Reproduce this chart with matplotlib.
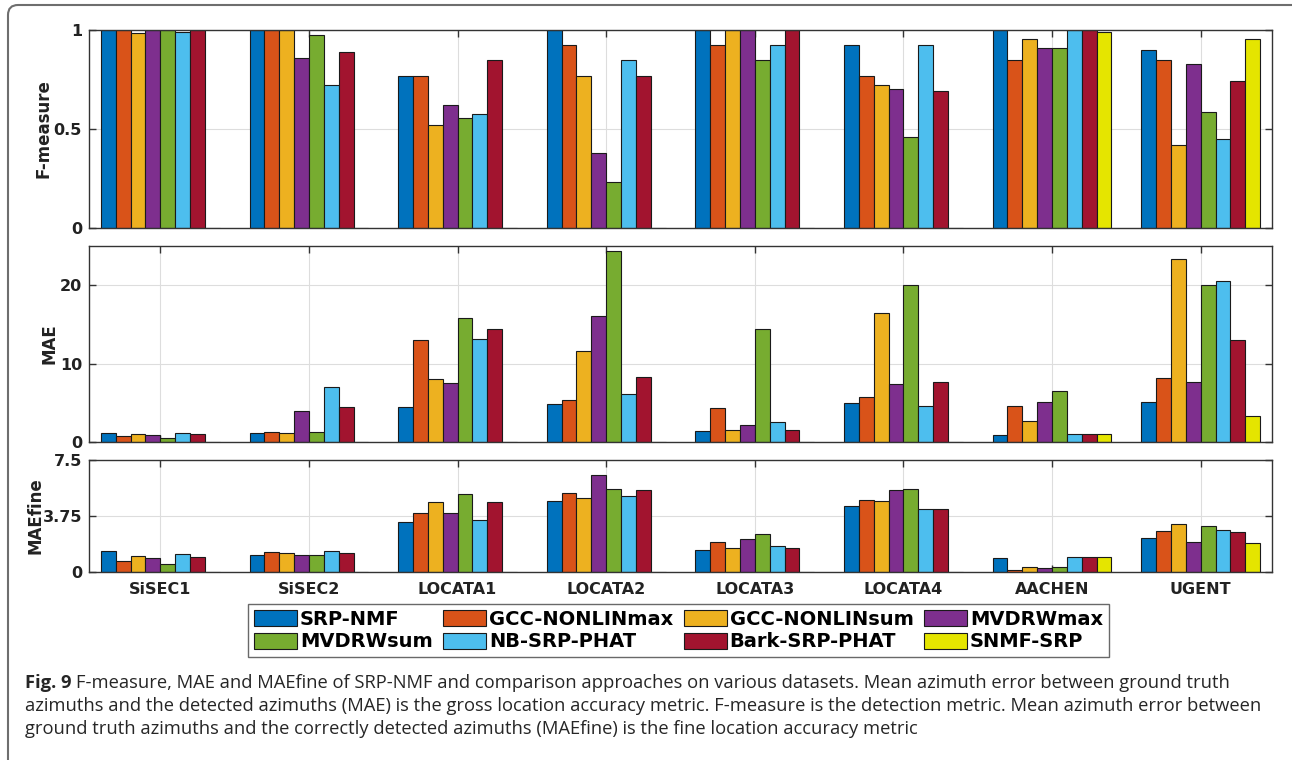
import matplotlib
matplotlib.use("Agg")
import matplotlib.pyplot as plt
import numpy as np
from matplotlib.patches import FancyBboxPatch, Patch
from matplotlib.transforms import IdentityTransform

# ---------------- data ----------------
datasets = ["SiSEC1", "SiSEC2", "LOCATA1", "LOCATA2", "LOCATA3", "LOCATA4", "AACHEN", "UGENT"]
methods = ["SRP-NMF", "GCC-NONLINmax", "GCC-NONLINsum", "MVDRWmax",
           "MVDRWsum", "NB-SRP-PHAT", "Bark-SRP-PHAT", "SNMF-SRP"]
colors = ["#0072BD", "#D95319", "#EDB120", "#7E2F8E",
          "#77AC30", "#4DBEEE", "#A2142F", "#E5E500"]

# F-measure per method (order of datasets)
f_srp_nmf   = [1.00, 1.00, 0.767, 1.00, 1.00, 0.922, 1.00, 0.90]
f_gcc_max   = [1.00, 1.00, 0.767, 0.922, 0.922, 0.767, 0.85, 0.85]
f_gcc_sum   = [0.983, 1.00, 0.518, 0.767, 1.00, 0.722, 0.953, 0.418]
f_mvdr_max  = [1.00, 0.86, 0.619, 0.379, 1.00, 0.70, 0.91, 0.83]
f_mvdr_sum  = [1.00, 0.973, 0.558, 0.231, 0.85, 0.46, 0.91, 0.587]
f_nb_srp    = [0.99, 0.722, 0.578, 0.85, 0.922, 0.922, 1.00, 0.45]
f_bark_srp  = [1.00, 0.89, 0.85, 0.767, 1.00, 0.69, 1.00, 0.744]
f_snmf_srp  = [0, 0, 0, 0, 0, 0, 0.99, 0.953]

# MAE per method
mae_srp_nmf  = [1.19, 1.19, 4.51, 4.81, 1.45, 4.94, 0.94, 5.06]
mae_gcc_max  = [0.72, 1.28, 13.06, 5.40, 4.38, 5.70, 4.55, 8.17]
mae_gcc_sum  = [1.02, 1.19, 8.04, 11.60, 1.53, 16.43, 2.72, 23.40]
mae_mvdr_max = [0.89, 4.00, 7.49, 16.13, 2.21, 7.40, 5.06, 7.62]
mae_mvdr_sum = [0.51, 1.28, 15.79, 24.40, 14.38, 20.04, 6.47, 20.04]
mae_nb_srp   = [1.19, 7.02, 13.19, 6.09, 2.60, 4.55, 1.06, 20.55]
mae_bark_srp = [1.02, 4.51, 14.38, 8.30, 1.57, 7.62, 1.06, 13.06]
mae_snmf_srp = [0, 0, 0, 0, 0, 0, 1.06, 3.36]

# MAEfine per method
fine_srp_nmf  = [1.39, 1.16, 3.36, 4.77, 1.45, 4.43, 0.96, 2.26]
fine_gcc_max  = [0.74, 1.32, 3.96, 5.32, 1.99, 4.83, 0.16, 2.75]
fine_gcc_sum  = [1.10, 1.25, 4.70, 4.97, 1.63, 4.77, 0.34, 3.20]
fine_mvdr_max = [0.96, 1.16, 3.96, 6.47, 2.19, 5.46, 0.25, 2.04]
fine_mvdr_sum = [0.56, 1.16, 5.19, 5.57, 2.53, 5.53, 0.34, 3.06]
fine_nb_srp   = [1.23, 1.41, 3.49, 5.10, 1.72, 4.21, 1.03, 2.80]
fine_bark_srp = [1.03, 1.30, 4.70, 5.46, 1.63, 4.23, 1.03, 2.66]
fine_snmf_srp = [0, 0, 0, 0, 0, 0, 1.03, 1.97]

fmeasure = [f_srp_nmf, f_gcc_max, f_gcc_sum, f_mvdr_max, f_mvdr_sum, f_nb_srp, f_bark_srp, f_snmf_srp]
mae = [mae_srp_nmf, mae_gcc_max, mae_gcc_sum, mae_mvdr_max, mae_mvdr_sum, mae_nb_srp, mae_bark_srp, mae_snmf_srp]
maefine = [fine_srp_nmf, fine_gcc_max, fine_gcc_sum, fine_mvdr_max, fine_mvdr_sum, fine_nb_srp, fine_bark_srp, fine_snmf_srp]

panels = [
    ("F-measure", fmeasure, (0, 1), [0, 0.5, 1], ["0", "0.5", "1"]),
    ("MAE", mae, (0, 25), [0, 10, 20], ["0", "10", "20"]),
    ("MAEfine", maefine, (0, 7.5), [0, 3.75, 7.5], ["0", "3.75", "7.5"]),
]

# ---------------- layout ----------------
W, H = 1292, 760
fig = plt.figure(figsize=(W / 100, H / 100), dpi=100)
fig.patch.set_facecolor("white")

def px_axes(l, t, r, b):
    return [l / W, 1 - b / H, (r - l) / W, (b - t) / H]

boxes = [(89, 30, 1272, 228), (89, 246, 1272, 442), (89, 460, 1272, 572)]
ylabel_x = [53, 58, 45]   # right edge (pixels) of the rotated y labels

tick_font = dict(family="DejaVu Sans", weight="bold", size=11.5)
spine_c = "#333333"
x = np.arange(1, len(datasets) + 1)
nser = len(methods)
bw = 0.8 / nser

axes = []
for i, ((label, data, ylim, yt, ytl), box) in enumerate(zip(panels, boxes)):
    ax = fig.add_axes(px_axes(*box))
    axes.append(ax)
    ax.set_axisbelow(True)
    for k in range(nser):
        ax.bar(x + (k - (nser - 1) / 2) * bw, data[k], width=bw,
               color=colors[k], edgecolor="#1a1a1a", linewidth=0.8, zorder=2)
    ax.set_xlim(0.52, 8.48)
    ax.set_ylim(*ylim)
    ax.set_xticks(x)
    ax.set_yticks(yt)
    ax.set_yticklabels(ytl, fontdict=tick_font)
    if i == 2:
        ax.set_xticklabels(datasets, fontdict=tick_font)
    else:
        ax.set_xticklabels([])
    ax.grid(True, color="#dddddd", linewidth=0.8, zorder=0)
    ax.tick_params(direction="in", length=5, width=1, color=spine_c,
                   top=True, right=True, labelcolor="#222222")
    ax.tick_params(axis="y", pad=5)
    ax.tick_params(axis="x", pad=7)
    for s in ax.spines.values():
        s.set_color(spine_c)
        s.set_linewidth(1.0)
    ax.set_ylabel(label, fontdict=dict(family="DejaVu Sans", weight="bold", size=12),
                  color="#222222")
    ax.yaxis.set_label_coords((ylabel_x[i] - 89) / (1272 - 89), 0.5)

# ---------------- legend ----------------
handles = [Patch(facecolor=c, edgecolor="#1a1a1a", linewidth=0.8) for c in colors]
order = [0, 4, 1, 5, 2, 6, 3, 7]
leg = fig.legend([handles[j] for j in order], [methods[j] for j in order],
                 ncol=4, loc="center",
                 bbox_to_anchor=(678.5 / W, 1 - 630.5 / H),
                 prop=dict(family="DejaVu Sans", weight="bold", size=14),
                 handlelength=2.2, handleheight=0.9, handletextpad=0.15,
                 columnspacing=0.55, labelspacing=0.2, borderpad=0.3,
                 fancybox=False, frameon=True)
leg.get_frame().set_edgecolor("#444444")
leg.get_frame().set_linewidth(1.0)

# ---------------- frame ----------------
frame = FancyBboxPatch((8, -60), 1320, 815,
                       boxstyle="round,pad=0,rounding_size=10",
                       transform=IdentityTransform(),
                       facecolor="none", edgecolor="#6e6e6e", linewidth=1.5)
fig.add_artist(frame)

# ---------------- caption ----------------
cap_font = "Open Sans"
cap_size = 13.2
cap_color = "#262626"
lines = [
    "F-measure, MAE and MAEfine of SRP-NMF and comparison approaches on various datasets. Mean azimuth error between ground truth",
    "azimuths and the detected azimuths (MAE) is the gross location accuracy metric. F-measure is the detection metric. Mean azimuth error between",
    "ground truth azimuths and the correctly detected azimuths (MAEfine) is the fine location accuracy metric",
]
line_y = [683, 706, 729]
t0 = fig.text(25 / W, 1 - line_y[0] / H, "Fig. 9", family=cap_font, weight="bold",
              size=cap_size, va="center", ha="left", color=cap_color)
fig.canvas.draw()
bb = t0.get_window_extent(renderer=fig.canvas.get_renderer())
fig.text((bb.x1 + 5) / W, 1 - line_y[0] / H, lines[0], family=cap_font,
         size=cap_size, va="center", ha="left", color=cap_color)
for ln, yy in zip(lines[1:], line_y[1:]):
    fig.text(25 / W, 1 - yy / H, ln, family=cap_font, size=cap_size,
             va="center", ha="left", color=cap_color)

fig.savefig("out.png", dpi=100, facecolor="white")
